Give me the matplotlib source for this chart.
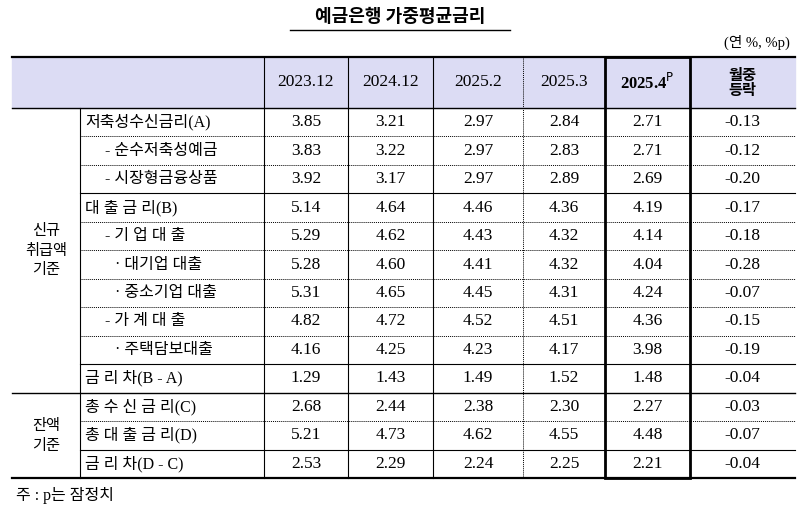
import matplotlib
matplotlib.use("Agg")
import matplotlib.pyplot as plt
from matplotlib import font_manager as fm

title = "예금은행 가중평균금리"
unit = "(연 %, %p)"
columns = ["2023.12", "2024.12", "2025.2", "2025.3", "2025.4", "월중\n등락"]
groups = ["신규\n취급액\n기준", "잔액\n기준"]
group_sizes = [10, 3]
row_labels = ["저축성수신금리(A)", "- 순수저축성예금", "- 시장형금융상품",
              "대 출 금 리(B)", "- 기 업 대 출", "· 대기업 대출", "· 중소기업 대출",
              "- 가 계 대 출", "· 주택담보대출", "금 리 차(B - A)",
              "총 수 신 금 리(C)", "총 대 출 금 리(D)", "금 리 차(D - C)"]
indent = [0, 1, 1, 0, 1, 2, 2, 1, 2, 0, 0, 0, 0]
v2023_12 = [3.85, 3.83, 3.92, 5.14, 5.29, 5.28, 5.31, 4.82, 4.16, 1.29, 2.68, 5.21, 2.53]
v2024_12 = [3.21, 3.22, 3.17, 4.64, 4.62, 4.60, 4.65, 4.72, 4.25, 1.43, 2.44, 4.73, 2.29]
v2025_2 = [2.97, 2.97, 2.97, 4.46, 4.43, 4.41, 4.45, 4.52, 4.23, 1.49, 2.38, 4.62, 2.24]
v2025_3 = [2.84, 2.83, 2.89, 4.36, 4.32, 4.32, 4.31, 4.51, 4.17, 1.52, 2.30, 4.55, 2.25]
v2025_4 = [2.71, 2.71, 2.69, 4.19, 4.14, 4.04, 4.24, 4.36, 3.98, 1.48, 2.27, 4.48, 2.21]
change = [-0.13, -0.12, -0.20, -0.17, -0.18, -0.28, -0.07, -0.15, -0.19, -0.04, -0.03, -0.07, -0.04]
footnote = "주 : p는 잠정치"

cjk = [f.name for f in fm.fontManager.ttflist if "CJK" in f.name]
cjk_name = next((n for n in cjk if "KR" in n), cjk[0] if cjk else "DejaVu Sans")
FONT = ["Liberation Serif", cjk_name]
KFONT = [cjk_name]

fig = plt.figure(figsize=(8, 5.08), dpi=100)
ax = fig.add_axes([0, 0, 1, 1])
ax.set_xlim(0, 800)
ax.set_ylim(508, 0)
ax.axis("off")

xs = [12, 80, 264, 348, 433, 523, 605, 690, 795]
top, hbot, bot = 57, 108, 478
rh = (bot - hbot) / 13

ax.text(400, 17, title, ha="center", va="center", fontsize=13, fontweight="bold", family=KFONT)
ax.plot([290, 510], [30, 30], color="black", lw=1)
ax.text(790, 42, unit, ha="right", va="center", fontsize=10.5, family=FONT)

ax.add_patch(plt.Rectangle((xs[0], top), xs[-1] - xs[0], hbot - top, color="#dcdcf4", zorder=0))

ax.plot([xs[0], xs[-1]], [top, top], color="black", lw=1.6)
ax.plot([xs[0], xs[-1]], [hbot, hbot], color="black", lw=1)
ax.plot([xs[0], xs[-1]], [bot, bot], color="black", lw=1.6)
solid_after = {2, 8, 9, 11}
group_after = {9}
for i in range(12):
    y = hbot + (i + 1) * rh
    if i in group_after:
        ax.plot([xs[0], xs[-1]], [y, y], color="black", lw=1)
    elif i in solid_after:
        ax.plot([xs[1], xs[-1]], [y, y], color="black", lw=0.8)
    else:
        ax.plot([xs[1], xs[-1]], [y, y], color="black", lw=0.7, ls=(0, (1, 1)))

for j, x in enumerate(xs[1:-1], start=1):
    y0 = hbot if j == 1 else top
    if x == 523:
        ax.plot([x, x], [y0, bot], color="black", lw=0.7, ls=(0, (1, 1)))
    else:
        ax.plot([x, x], [y0, bot], color="black", lw=0.8)
ax.add_patch(plt.Rectangle((xs[6], top), xs[7] - xs[6], bot - top, fill=False, lw=2, ec="black", zorder=5))

for j, c in enumerate(columns):
    cx = (xs[j + 2] + xs[j + 3]) / 2
    cy = (top + hbot) / 2
    if j == 4:
        ax.text(cx, cy, c + "$^{\\mathrm{P}}$", ha="center", va="center", fontsize=12,
                fontweight="bold", family=["Liberation Serif"])
    elif j == 5:
        ax.text(cx, cy, c, ha="center", va="center", fontsize=11, fontweight="bold",
                family=KFONT, linespacing=0.95)
    else:
        ax.text(cx, cy, c, ha="center", va="center", fontsize=12.5, family=FONT)

start = 0
for g, n in zip(groups, group_sizes):
    cy = hbot + (start + n / 2) * rh
    ax.text((xs[0] + xs[1]) / 2, cy, g, ha="center", va="center", fontsize=11, family=KFONT, linespacing=1.2)
    start += n

cols = [v2023_12, v2024_12, v2025_2, v2025_3, v2025_4, change]
for i, lab in enumerate(row_labels):
    cy = hbot + (i + 0.5) * rh
    lx = xs[1] + 5 + [0, 20, 30][indent[i]]
    ax.text(lx, cy, lab, ha="left", va="center", fontsize=11.5, family=FONT)
    for j, col in enumerate(cols):
        cx = (xs[j + 2] + xs[j + 3]) / 2
        ax.text(cx, cy, f"{col[i]:.2f}", ha="center", va="center", fontsize=12.5, family=FONT)

ax.text(16, 496, footnote, ha="left", va="center", fontsize=11.5, family=FONT)

fig.savefig("out.png", dpi=100)
